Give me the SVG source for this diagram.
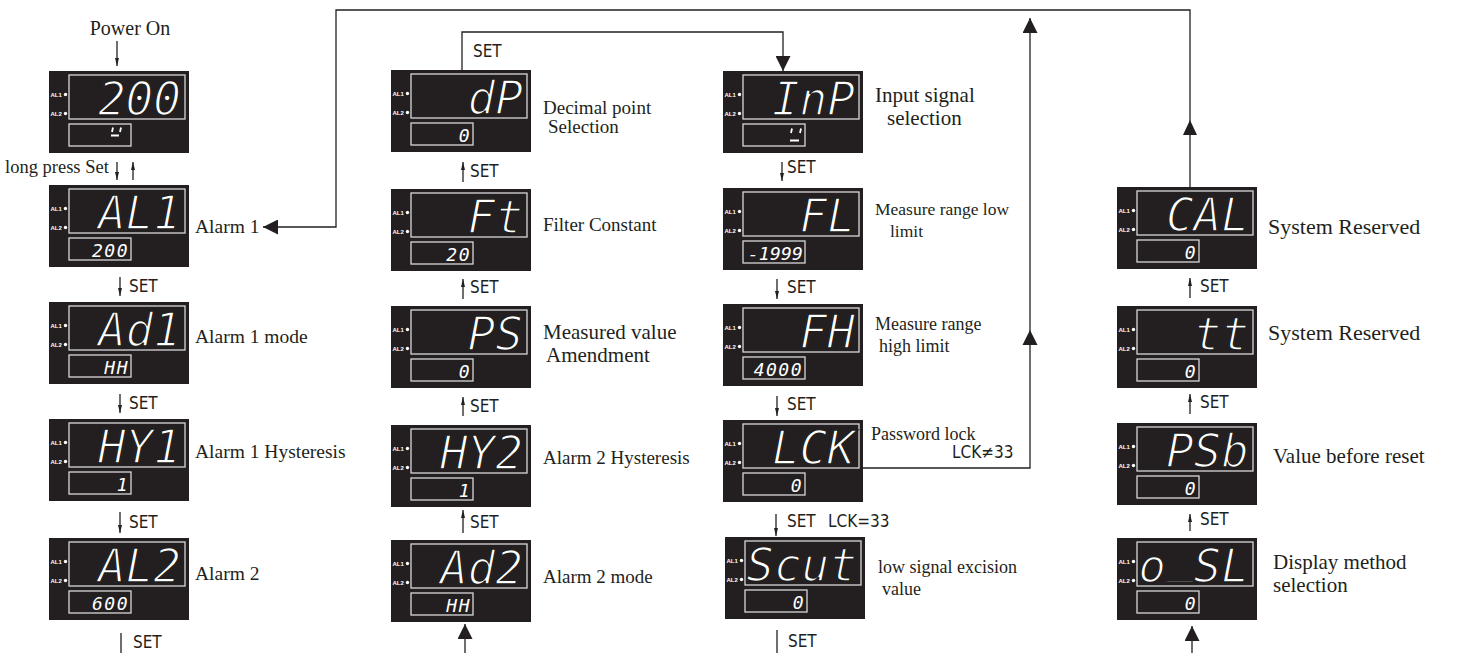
<svg xmlns="http://www.w3.org/2000/svg" xmlns:xlink="http://www.w3.org/1999/xlink" width="1457" height="653" viewBox="0 0 1457 653">
<style>
.lbl{font-family:"Liberation Serif","Times New Roman",serif;fill:#231f20}
.set{font-family:"DejaVu Sans Condensed","DejaVu Sans",sans-serif;font-stretch:condensed;font-size:17px;fill:#231f20}
.seg{font-family:"DejaVu Sans Mono",monospace;font-style:italic;font-size:46px;fill:#fff;stroke:#231f20;stroke-width:1.6px;text-anchor:end}
.sub{font-family:"DejaVu Sans Mono",monospace;font-style:italic;font-size:18px;fill:#fff;letter-spacing:1.5px;text-anchor:end}
.ln{fill:none;stroke:#231f20;stroke-width:1.3}
.hd{fill:#231f20}
.al{font-family:"Liberation Sans",Arial,sans-serif;font-weight:bold;font-size:6px;fill:#fff}
.gl{stroke:#fff;stroke-width:1.8;fill:none}
</style>
<defs>
<marker id="sm" viewBox="0 0 10 10" refX="10" refY="5" markerWidth="8" markerHeight="4" markerUnits="userSpaceOnUse" orient="auto" preserveAspectRatio="none"><path d="M0,0 L10,5 L0,10 z" fill="#231f20"/></marker>
<marker id="big" viewBox="0 0 10 10" refX="10" refY="5" markerWidth="15" markerHeight="15" markerUnits="userSpaceOnUse" orient="auto" preserveAspectRatio="none"><path d="M0,0 L10,5 L0,10 z" fill="#231f20"/></marker>
<g id="panel">
<rect x="0" y="0" width="140" height="82" fill="#231f20"/>
<rect x="20" y="4" width="116" height="44" fill="none" stroke="#d8d8d8" stroke-width="1.3"/>
<rect x="20" y="53" width="62" height="22" fill="none" stroke="#d8d8d8" stroke-width="1.3"/>
<text class="al" x="1.5" y="25.5">AL1</text>
<circle cx="16.5" cy="23.5" r="1.7" fill="#fff"/>
<text class="al" x="1.5" y="44.5">AL2</text>
<circle cx="16.5" cy="42.5" r="1.7" fill="#fff"/>
</g>
</defs>
<rect width="1457" height="653" fill="#fff"/>

<!-- column 1 -->
<g id="n-power" transform="translate(49,71)"><use href="#panel"/><text class="seg" x="132" y="44">200</text>
<path class="gl" d="M64,56.5 L63,61 M72,56.5 L71,61 M62,64.5 H70"/></g>
<g id="n-al1" transform="translate(49,185)"><use href="#panel"/><text class="seg" x="132" y="44">AL1</text><text class="sub" x="80" y="72">200</text></g>
<g id="n-ad1" transform="translate(49,302)"><use href="#panel"/><text class="seg" x="132" y="44">Ad1</text><text class="sub" x="80" y="72">HH</text></g>
<g id="n-hy1" transform="translate(49,419)"><use href="#panel"/><text class="seg" x="132" y="44">HY1</text><text class="sub" x="80" y="72">1</text></g>
<g id="n-al2" transform="translate(49,538)"><use href="#panel"/><text class="seg" x="132" y="44">AL2</text><text class="sub" x="80" y="72">600</text></g>

<!-- column 2 -->
<g id="n-dp" transform="translate(391,70)"><use href="#panel"/><text class="seg" x="132" y="44">dP</text><text class="sub" x="80" y="72">0</text></g>
<g id="n-ft" transform="translate(391,189)"><use href="#panel"/><text class="seg" x="132" y="44">Ft</text><text class="sub" x="80" y="72">20</text></g>
<g id="n-ps" transform="translate(391,306)"><use href="#panel"/><text class="seg" x="132" y="44">PS</text><text class="sub" x="80" y="72">0</text></g>
<g id="n-hy2" transform="translate(391,425)"><use href="#panel"/><text class="seg" x="132" y="44">HY2</text><text class="sub" x="80" y="72">1</text></g>
<g id="n-ad2" transform="translate(391,540)"><use href="#panel"/><text class="seg" x="132" y="44">Ad2</text><text class="sub" x="80" y="72">HH</text></g>

<!-- column 3 -->
<g id="n-inp" transform="translate(723,71)"><use href="#panel"/><text class="seg" x="132" y="44">InP</text>
<path class="gl" d="M69,57.5 L68,62 M78,57.5 L77,62 M67,69.5 H76"/></g>
<g id="n-fl" transform="translate(723,188)"><use href="#panel"/><text class="seg" x="132" y="44">FL</text><text class="sub" x="80" y="72" style="letter-spacing:0.2px">-1999</text></g>
<g id="n-fh" transform="translate(723,304)"><use href="#panel"/><text class="seg" x="132" y="44">FH</text><text class="sub" x="80" y="72">4000</text></g>
<g id="n-lck" transform="translate(723,420)"><use href="#panel"/><text class="seg" x="132" y="44">LCK</text><text class="sub" x="80" y="72">0</text></g>
<g id="n-scut" transform="translate(725,537)"><use href="#panel"/><text class="seg" x="132" y="44">Scut</text><text class="sub" x="80" y="72">0</text></g>

<!-- column 4 -->
<g id="n-cal" transform="translate(1117,187)"><use href="#panel"/><text class="seg" x="132" y="44">CAL</text><text class="sub" x="80" y="72">0</text></g>
<g id="n-tt" transform="translate(1117,306)"><use href="#panel"/><text class="seg" x="132" y="44">tt</text><text class="sub" x="80" y="72">0</text></g>
<g id="n-psb" transform="translate(1117,423)"><use href="#panel"/><text class="seg" x="132" y="44">PSb</text><text class="sub" x="80" y="72">0</text></g>
<g id="n-osl" transform="translate(1117,538)"><use href="#panel"/><text class="seg" x="132" y="44">o<tspan dy="-11">_</tspan><tspan dy="11">SL</tspan></text><text class="sub" x="80" y="72">0</text></g>

<!-- labels -->
<g id="labels">
<text class="lbl" x="130" y="35" font-size="20" text-anchor="middle">Power On</text>
<text class="lbl" x="5" y="173" font-size="18.5">long press Set</text>
<text class="lbl" x="195" y="233" font-size="19.5">Alarm 1</text>
<text class="lbl" x="195" y="343" font-size="19.5">Alarm 1 mode</text>
<text class="lbl" x="195" y="458" font-size="19.5">Alarm 1 Hysteresis</text>
<text class="lbl" x="195" y="580" font-size="19.5">Alarm 2</text>

<text class="lbl" x="543" y="114" font-size="19">Decimal point</text>
<text class="lbl" x="548" y="133" font-size="19">Selection</text>
<text class="lbl" x="543" y="231" font-size="19">Filter Constant</text>
<text class="lbl" x="543" y="339" font-size="21">Measured value</text>
<text class="lbl" x="546" y="362" font-size="21">Amendment</text>
<text class="lbl" x="543" y="464" font-size="19">Alarm 2 Hysteresis</text>
<text class="lbl" x="543" y="583" font-size="19">Alarm 2 mode</text>

<text class="lbl" x="875" y="102" font-size="21">Input signal</text>
<text class="lbl" x="887" y="125" font-size="21">selection</text>
<text class="lbl" x="875" y="215" font-size="17.5">Measure range low</text>
<text class="lbl" x="890" y="237" font-size="17.5">limit</text>
<text class="lbl" x="875" y="330" font-size="18">Measure range</text>
<text class="lbl" x="879" y="352" font-size="18">high limit</text>
<text class="lbl" x="871" y="440" font-size="18">Password lock</text>
<text class="set" x="952" y="458">LCK≠33</text>
<text class="lbl" x="878" y="573" font-size="18">low signal excision</text>
<text class="lbl" x="882" y="595" font-size="18">value</text>

<text class="lbl" x="1268" y="234" font-size="22">System Reserved</text>
<text class="lbl" x="1268" y="340" font-size="22">System Reserved</text>
<text class="lbl" x="1273" y="463" font-size="21">Value before reset</text>
<text class="lbl" x="1273" y="569" font-size="21">Display method</text>
<text class="lbl" x="1273" y="592" font-size="21">selection</text>

<text class="set" x="129" y="292">SET</text>
<text class="set" x="129" y="409">SET</text>
<text class="set" x="129" y="528">SET</text>
<text class="set" x="133" y="648">SET</text>

<text class="set" x="473" y="57">SET</text>
<text class="set" x="470" y="177">SET</text>
<text class="set" x="470" y="293">SET</text>
<text class="set" x="470" y="412">SET</text>
<text class="set" x="470" y="528">SET</text>

<text class="set" x="787" y="173">SET</text>
<text class="set" x="787" y="293">SET</text>
<text class="set" x="787" y="410">SET</text>
<text class="set" x="787" y="527">SET</text>
<text class="set" x="828" y="527">LCK=33</text>
<text class="set" x="788" y="647">SET</text>

<text class="set" x="1200" y="292">SET</text>
<text class="set" x="1200" y="408">SET</text>
<text class="set" x="1200" y="525">SET</text>
</g>

<!-- connectors -->
<g id="connectors">
<line class="ln" x1="117" y1="41" x2="117" y2="66" marker-end="url(#sm)"/>
<line class="ln" x1="117" y1="162" x2="117" y2="180" marker-end="url(#sm)"/>
<line class="ln" x1="133" y1="180" x2="133" y2="162" marker-end="url(#sm)"/>
<line class="ln" x1="120" y1="277" x2="120" y2="296" marker-end="url(#sm)"/>
<line class="ln" x1="120" y1="394" x2="120" y2="413" marker-end="url(#sm)"/>
<line class="ln" x1="120" y1="512" x2="120" y2="533" marker-end="url(#sm)"/>
<line class="ln" x1="121" y1="633" x2="121" y2="653"/>

<path class="ln" d="M462,70 V32 H783 V71" marker-end="url(#big)"/>
<line class="ln" x1="463" y1="182" x2="463" y2="162" marker-end="url(#sm)"/>
<line class="ln" x1="463" y1="299" x2="463" y2="279" marker-end="url(#sm)"/>
<line class="ln" x1="463" y1="416" x2="463" y2="397" marker-end="url(#sm)"/>
<line class="ln" x1="463" y1="533" x2="463" y2="510" marker-end="url(#sm)"/>
<line class="ln" x1="465" y1="653" x2="465" y2="624" marker-end="url(#big)"/>

<line class="ln" x1="782" y1="162" x2="782" y2="181" marker-end="url(#sm)"/>
<line class="ln" x1="777" y1="279" x2="777" y2="299" marker-end="url(#sm)"/>
<line class="ln" x1="777" y1="396" x2="777" y2="416" marker-end="url(#sm)"/>
<line class="ln" x1="776" y1="514" x2="776" y2="536" marker-end="url(#sm)"/>
<line class="ln" x1="777" y1="630" x2="777" y2="653"/>

<path class="ln" d="M863,468 H1030 V18" marker-end="url(#big)"/>
<polygon class="hd" points="1030,330 1037.5,345 1022.5,345"/>

<path class="ln" d="M1190,187 V10 H336 V227 H263" marker-end="url(#big)"/>
<polygon class="hd" points="1190,120 1197,135 1183,135"/>

<line class="ln" x1="1190" y1="298" x2="1190" y2="278" marker-end="url(#sm)"/>
<line class="ln" x1="1190" y1="414" x2="1190" y2="394" marker-end="url(#sm)"/>
<line class="ln" x1="1190" y1="531" x2="1190" y2="514" marker-end="url(#sm)"/>
<line class="ln" x1="1192" y1="653" x2="1192" y2="626" marker-end="url(#big)"/>
</g>
</svg>
